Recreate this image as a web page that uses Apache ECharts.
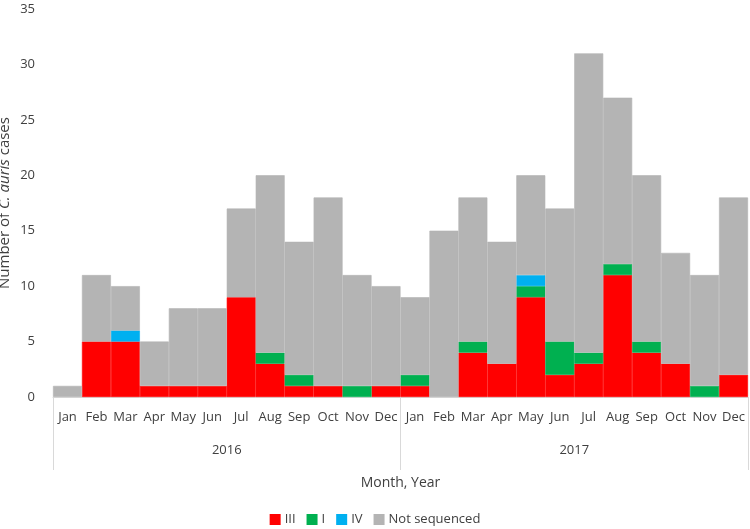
<!DOCTYPE html>
<html lang="en">
<head>
    <meta charset="UTF-8">
    <title>C. auris cases</title>
    <script src="https://cdn.jsdelivr.net/npm/echarts@6/dist/echarts.min.js"></script>
    <style>
        html, body { margin: 0; padding: 0; background: #fff; }
        #chart { width: 750px; height: 529px; }
    </style>
</head>
<body>
<div id="chart"></div>
<script>
    // months for 2016 and 2017
    var months = ['Jan','Feb','Mar','Apr','May','Jun','Jul','Aug','Sep','Oct','Nov','Dec',
                  'Jan','Feb','Mar','Apr','May','Jun','Jul','Aug','Sep','Oct','Nov','Dec'];
    var years = ['2016', '2017'];
    var yTicks = [0, 5, 10, 15, 20, 25, 30, 35];

    // cases per clade, stacked
    var clade3 = [0,5,5,1,1,1,9,3,1,1,0,1, 1,0,4,3,9,2,3,11,4,3,0,2];
    var clade1 = [0,0,0,0,0,0,0,1,1,0,1,0, 1,0,1,0,1,3,1,1,1,0,1,0];
    var clade4 = [0,0,1,0,0,0,0,0,0,0,0,0, 0,0,0,0,1,0,0,0,0,0,0,0];
    var notSeq = [1,6,4,4,7,7,8,16,12,17,10,9, 7,15,13,11,9,12,27,15,15,10,10,16];

    var font = 'Open Sans';
    var textColor = '#404040';

    var chart = echarts.init(document.getElementById('chart'));

    function bar(name, data, color) {
        return {
            name: name,
            type: 'bar',
            stack: 'cases',
            // empty months are left out so they draw no border line
            data: data.map(function (v) { return v === 0 ? '-' : v; }),
            barCategoryGap: 0,
            barGap: 0,
            // border in the fill colour so neighbouring bars merge
            itemStyle: { color: color, borderColor: color, borderWidth: 0.6 },
            emphasis: { disabled: true }
        };
    }

    chart.setOption({
        animation: false,
        textStyle: { fontFamily: font },
        grid: { left: 53, right: 2, top: 9, bottom: 132, containLabel: false, outerBoundsMode: 'none' },
        legend: {
            bottom: -2,
            left: 'center',
            itemWidth: 9,
            itemHeight: 9,
            itemGap: 11,
            icon: 'rect',
            textStyle: { fontFamily: font, fontSize: 13, color: textColor },
            data: ['III', 'I', 'IV', 'Not sequenced']
        },
        xAxis: [{
            type: 'category',
            data: months,
            position: 'bottom',
            axisLine: { lineStyle: { color: '#d9d9d9', width: 1 } },
            axisTick: { show: false },
            axisLabel: { interval: 0, margin: 14, fontSize: 13, color: textColor, fontFamily: font },
            name: 'Month, Year',
            nameLocation: 'middle',
            nameGap: 79,
            nameMoveOverlap: false,
            nameTextStyle: { fontSize: 14, color: textColor, fontFamily: font }
        }, {
            type: 'category',
            data: years,
            position: 'bottom',
            axisLine: { show: false },
            axisTick: { show: true, length: 73, lineStyle: { color: '#d9d9d9' } },
            axisLabel: { margin: 47, fontSize: 13, color: textColor, fontFamily: font }
        }],
        yAxis: {
            type: 'value',
            min: yTicks[0],
            max: yTicks[yTicks.length - 1],
            interval: 5,
            splitLine: { show: false },
            axisLine: { show: false },
            axisTick: { show: false },
            axisLabel: { fontSize: 13, color: textColor, fontFamily: font, margin: 18 },
            name: '{a|Number of }{b|C. auris}{a| cases}',
            nameLocation: 'middle',
            nameGap: 41,
            nameMoveOverlap: false,
            nameTextStyle: {
                rich: {
                    a: { fontSize: 15, color: textColor, fontFamily: font },
                    b: { fontSize: 15, color: textColor, fontFamily: font, fontStyle: 'italic' }
                }
            }
        },
        series: [
            bar('III', clade3, '#ff0000'),
            bar('I', clade1, '#00b050'),
            bar('IV', clade4, '#00b0f0'),
            bar('Not sequenced', notSeq, '#b4b4b4')
        ]
    });
</script>
</body>
</html>
